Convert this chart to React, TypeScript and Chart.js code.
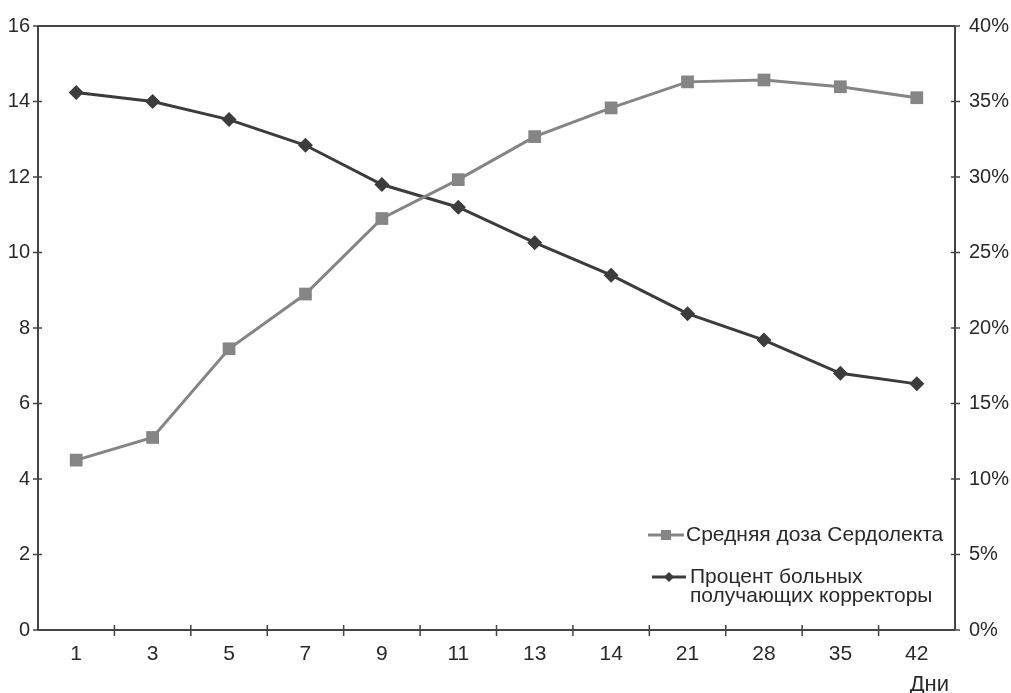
import React, { useEffect, useRef } from "react";
import { Chart, registerables } from "chart.js";

Chart.register(...registerables);

const days = ["1", "3", "5", "7", "9", "11", "13", "14", "21", "28", "35", "42"];
const doseValues = [4.5, 5.1, 7.45, 8.9, 10.9, 11.93, 13.07, 13.83, 14.52, 14.57, 14.39, 14.1];
const percentValues = [35.6, 35.0, 33.8, 32.1, 29.5, 28.0, 25.65, 23.5, 20.95, 19.2, 17.0, 16.3];
const doseLabel = "Средняя доза Сердолекта";
const percentLabelLines = ["Процент больных", "получающих корректоры"];
const xAxisTitle = "Дни";

const FONT = "'Liberation Sans', Arial, sans-serif";
const DOSE_COLOR = "#858585";
const PCT_COLOR = "#3c3c3c";
const AXIS_COLOR = "#444444";
const TEXT_COLOR = "#2a2a2a";

const framePlugin = {
  id: "frame",
  afterDraw(chart: any) {
    const ctx = chart.ctx;
    const { left, right, top, bottom } = chart.chartArea;
    const x = chart.scales.x;
    const y = chart.scales.y;
    const y2 = chart.scales.y2;
    ctx.save();
    ctx.strokeStyle = AXIS_COLOR;
    ctx.lineWidth = 2;
    ctx.beginPath();
    ctx.moveTo(left, top);
    ctx.lineTo(right, top);
    ctx.moveTo(left, top);
    ctx.lineTo(left, bottom);
    ctx.moveTo(right, top);
    ctx.lineTo(right, bottom);
    ctx.moveTo(left, bottom);
    ctx.lineTo(right, bottom);
    ctx.stroke();
    ctx.lineWidth = 1.5;
    ctx.beginPath();
    y.ticks.forEach((t: any) => {
      const py = y.getPixelForValue(t.value);
      ctx.moveTo(left - 5, py);
      ctx.lineTo(left + 4, py);
    });
    y2.ticks.forEach((t: any) => {
      const py = y2.getPixelForValue(t.value);
      ctx.moveTo(right - 4, py);
      ctx.lineTo(right + 5, py);
    });
    for (let i = 1; i < days.length; i++) {
      const px = (x.getPixelForValue(i - 1) + x.getPixelForValue(i)) / 2;
      ctx.moveTo(px, bottom - 5);
      ctx.lineTo(px, bottom + 6);
    }
    ctx.stroke();

    // x axis title
    ctx.fillStyle = TEXT_COLOR;
    ctx.font = `22px ${FONT}`;
    ctx.textAlign = "right";
    ctx.textBaseline = "middle";
    ctx.fillText(xAxisTitle, right - 6, bottom + 55);

    // legend
    const lx = 648;
    const ly1 = 535;
    const ly2 = 577;
    ctx.lineWidth = 3;
    ctx.strokeStyle = DOSE_COLOR;
    ctx.beginPath();
    ctx.moveTo(lx, ly1);
    ctx.lineTo(lx + 36, ly1);
    ctx.stroke();
    ctx.fillStyle = DOSE_COLOR;
    ctx.fillRect(lx + 18 - 5, ly1 - 5, 10, 10);
    ctx.strokeStyle = PCT_COLOR;
    ctx.beginPath();
    ctx.moveTo(lx + 4, ly2);
    ctx.lineTo(lx + 38, ly2);
    ctx.stroke();
    ctx.fillStyle = PCT_COLOR;
    ctx.beginPath();
    ctx.moveTo(lx + 21, ly2 - 5);
    ctx.lineTo(lx + 26, ly2);
    ctx.lineTo(lx + 21, ly2 + 5);
    ctx.lineTo(lx + 16, ly2);
    ctx.closePath();
    ctx.fill();
    ctx.fillStyle = TEXT_COLOR;
    ctx.textAlign = "left";
    ctx.font = `21px ${FONT}`;
    ctx.fillText(doseLabel, lx + 38, ly1);
    ctx.fillText(percentLabelLines[0], lx + 42, ly2);
    ctx.fillText(percentLabelLines[1], lx + 42, ly2 + 19);
    ctx.restore();
  },
};

export default function App() {
  const ref = useRef<HTMLCanvasElement>(null);
  useEffect(() => {
    if (!ref.current) return;
    const chart = new Chart(ref.current, {
      type: "line",
      data: {
        labels: days,
        datasets: [
          {
            label: doseLabel,
            data: doseValues,
            yAxisID: "y",
            borderColor: DOSE_COLOR,
            backgroundColor: DOSE_COLOR,
            borderWidth: 3,
            pointStyle: "rect",
            pointRadius: 9,
            pointBorderWidth: 0,
            tension: 0,
          },
          {
            label: percentLabelLines.join(" "),
            data: percentValues,
            yAxisID: "y2",
            borderColor: PCT_COLOR,
            backgroundColor: PCT_COLOR,
            borderWidth: 3,
            pointStyle: "rectRot",
            pointRadius: 7.5,
            pointBorderWidth: 0,
            tension: 0,
          },
        ],
      },
      options: {
        animation: false,
        responsive: true,
        maintainAspectRatio: false,
        layout: { padding: { top: 25, left: 0, right: 0, bottom: 0 } },
        plugins: { legend: { display: false }, tooltip: { enabled: false } },
        scales: {
          x: {
            offset: true,
            grid: { display: false, drawTicks: false },
            border: { display: false },
            ticks: { color: TEXT_COLOR, font: { family: FONT, size: 21 }, padding: 12, maxRotation: 0 },
            afterFit: (s: any) => {
              s.height = 63;
            },
          },
          y: {
            position: "left",
            min: 0,
            max: 16,
            ticks: { stepSize: 2, color: TEXT_COLOR, font: { family: FONT, size: 20 }, padding: 8 },
            grid: { display: false, drawTicks: false },
            border: { display: false },
            afterFit: (s: any) => {
              s.width = 38;
            },
          },
          y2: {
            position: "right",
            min: 0,
            max: 40,
            ticks: {
              stepSize: 5,
              color: TEXT_COLOR,
              font: { family: FONT, size: 20 },
              padding: 14,
              callback: (v: any) => `${v}%`,
            },
            grid: { display: false, drawTicks: false },
            border: { display: false },
            afterFit: (s: any) => {
              s.width = 56;
            },
          },
        },
      },
      plugins: [framePlugin],
    });
    return () => chart.destroy();
  }, []);
  return (
    <div style={{ position: "fixed", left: 0, top: 0, width: 1011, height: 693, background: "#fff" }}>
      <canvas ref={ref} />
    </div>
  );
}
